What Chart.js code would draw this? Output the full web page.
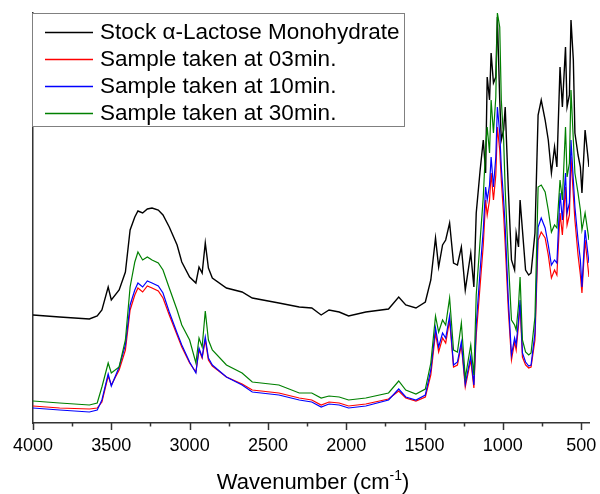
<!DOCTYPE html>
<html>
<head>
<meta charset="utf-8">
<script src="https://cdn.jsdelivr.net/npm/chart.js@4.4.0/dist/chart.umd.min.js"></script>
<style>
  html, body { margin: 0; padding: 0; background: #fff; }
  #wrap { width: 600px; height: 494px; }
</style>
</head>
<body>
<div id="wrap"><canvas id="ftir" width="600" height="494"></canvas></div>
<script>
// FTIR spectra, absorbance in arbitrary units (offset, no y scale shown)
const wavenumber = [4000, 3830, 3640, 3590, 3560, 3520, 3500, 3450, 3410, 3380, 3350, 3330, 3300, 3270, 3240, 3200, 3170, 3130, 3080, 3050,
  3000, 2960, 2940, 2920, 2900, 2880, 2855, 2765, 2665, 2600, 2430, 2300, 2220, 2160, 2110, 2045, 1985, 1875, 1730, 1665,
  1620, 1555, 1495, 1460, 1430, 1410, 1385, 1365, 1340, 1315, 1290, 1265, 1240, 1205, 1185, 1170, 1145, 1125, 1110, 1100,
  1085, 1075, 1060, 1045, 1035, 1020, 1010, 995, 985, 965, 945, 925, 915, 900, 890, 875, 855, 835, 820, 795,
  775, 755, 730, 710, 690, 670, 655, 635, 620, 600, 590, 575, 565, 550, 540, 520, 505, 495, 475, 450];

const stock = [108, 106, 104, 107, 113, 136, 123, 133, 151, 193, 206, 212, 210, 214, 215, 213, 208, 196, 178, 161,
  146, 140, 156, 150, 180, 155, 145, 135, 131, 125, 120, 116, 115, 108, 113, 111, 107, 111, 114, 126,
  118, 115, 121, 143, 185, 156, 178, 183, 200, 160, 158, 176, 133, 170, 136, 210, 253, 283, 250, 346,
  323, 370, 340, 346, 406, 323, 283, 293, 316, 233, 163, 153, 190, 176, 223, 193, 153, 148, 150, 190,
  308, 323, 303, 283, 250, 276, 256, 356, 316, 376, 316, 328, 403, 363, 290, 268, 256, 230, 293, 256];

const min03 = [17, 15, 14, 15, 21, 47, 38, 53, 73, 113, 128, 135, 131, 137, 135, 132, 125, 108, 88, 76,
  60, 51, 73, 65, 83, 63, 57, 46, 39, 33, 30, 25, 23, 18, 21, 20, 17, 19, 24, 32,
  25, 22, 26, 48, 90, 71, 85, 80, 103, 56, 58, 78, 36, 63, 35, 88, 138, 178, 223, 208,
  223, 250, 223, 248, 296, 273, 243, 208, 178, 113, 63, 81, 73, 98, 118, 66, 58, 55, 56, 83,
  183, 191, 185, 168, 145, 153, 148, 210, 188, 236, 198, 208, 266, 228, 203, 168, 148, 130, 183, 146];

const min10 = [15, 13, 11, 13, 23, 49, 37, 56, 78, 118, 133, 140, 136, 142, 140, 137, 130, 111, 90, 78,
  61, 50, 75, 66, 86, 65, 58, 46, 38, 31, 28, 23, 21, 16, 19, 18, 15, 17, 23, 34,
  26, 23, 28, 53, 95, 76, 90, 85, 107, 58, 61, 81, 39, 67, 38, 98, 153, 193, 236, 223,
  238, 266, 236, 266, 316, 290, 256, 223, 196, 123, 68, 85, 78, 103, 123, 70, 61, 57, 58, 90,
  196, 205, 195, 178, 158, 163, 160, 230, 203, 250, 210, 220, 283, 243, 216, 183, 163, 136, 193, 160];

const min30 = [22, 20, 18, 20, 36, 60, 50, 56, 83, 136, 161, 171, 163, 166, 163, 160, 153, 135, 113, 98,
  83, 60, 85, 76, 112, 83, 73, 58, 50, 41, 38, 30, 30, 25, 27, 26, 23, 25, 30, 42,
  33, 29, 34, 60, 107, 91, 103, 98, 125, 73, 71, 100, 45, 78, 48, 128, 183, 226, 276, 296,
  270, 323, 290, 326, 410, 396, 323, 283, 233, 163, 103, 98, 93, 118, 146, 83, 71, 68, 70, 106,
  236, 238, 231, 213, 191, 198, 195, 243, 223, 296, 246, 260, 333, 283, 250, 230, 213, 193, 210, 183];

const seriesNames = ['Stock \u03b1-Lactose Monohydrate', 'Sample taken at 03min.', 'Sample taken at 10min.', 'Sample taken at 30min.'];
const seriesColors = ['#000000', '#ff0000', '#0000ff', '#008000'];
const xTicks = [500, 1000, 1500, 2000, 2500, 3000, 3500, 4000];
const xMinorTicks = [750, 1250, 1750, 2250, 2750, 3250, 3750];

const FONT = '"Liberation Sans", Arial, Helvetica, sans-serif';

function toPoints(ys) {
  return wavenumber.map((w, i) => ({ x: w, y: ys[i] }));
}

// tick marks, legend box and axis title
const decorations = {
  id: 'decorations',
  afterDraw(chart) {
    const ctx = chart.ctx;
    const xs = chart.scales.x;
    const area = chart.chartArea;
    ctx.save();

    // tick marks below the x axis
    ctx.strokeStyle = '#333';
    ctx.lineWidth = 1.5;
    const mark = (v, len) => {
      const px = Math.round(xs.getPixelForValue(v)) + 0.5;
      ctx.beginPath();
      ctx.moveTo(px, area.bottom);
      ctx.lineTo(px, area.bottom + len);
      ctx.stroke();
    };
    xTicks.forEach(v => mark(v, 7));
    xMinorTicks.forEach(v => mark(v, 3.5));

    // legend
    const box = { x: 32.5, y: 13.5, w: 372, h: 113 };
    ctx.fillStyle = '#fff';
    ctx.fillRect(box.x, box.y, box.w, box.h);
    ctx.strokeStyle = '#808080';
    ctx.lineWidth = 1;
    ctx.strokeRect(box.x, box.y, box.w, box.h);
    ctx.font = '22.5px ' + FONT;
    ctx.textBaseline = 'middle';
    ctx.textAlign = 'left';
    seriesNames.forEach((name, i) => {
      const y = 32 + i * 27;
      ctx.strokeStyle = seriesColors[i];
      ctx.lineWidth = 1.3;
      ctx.beginPath();
      ctx.moveTo(45, y + 0.5);
      ctx.lineTo(93, y + 0.5);
      ctx.stroke();
      ctx.fillStyle = '#000';
      ctx.fillText(name, 100, y + 1);
    });

    // axis title with superscript
    const main = 'Wavenumber (cm';
    const sup = '-1';
    const tail = ')';
    ctx.font = '22px ' + FONT;
    const w1 = ctx.measureText(main).width;
    const w3 = ctx.measureText(tail).width;
    ctx.font = '14px ' + FONT;
    const w2 = ctx.measureText(sup).width;
    const total = w1 + w2 + w3;
    let x = 313 - total / 2;
    const base = 489;
    ctx.textBaseline = 'alphabetic';
    ctx.fillStyle = '#000';
    ctx.font = '22px ' + FONT;
    ctx.fillText(main, x, base);
    x += w1;
    ctx.font = '14px ' + FONT;
    ctx.fillText(sup, x, base - 9);
    x += w2;
    ctx.font = '22px ' + FONT;
    ctx.fillText(tail, x, base);
    ctx.restore();
  }
};

const datasets = [stock, min03, min10, min30].map((ys, i) => ({
  label: seriesNames[i],
  data: toPoints(ys),
  borderColor: seriesColors[i],
  borderWidth: i === 0 ? 1.4 : 1.2,
  pointRadius: 0,
  tension: 0,
  fill: false,
  order: [3, 2, 1, 0][i]
}));

new Chart(document.getElementById('ftir'), {
  type: 'line',
  data: { datasets: datasets },
  options: {
    responsive: false,
    animation: false,
    events: [],
    layout: { padding: { top: 13, right: 11, left: 0, bottom: 0 } },
    plugins: {
      legend: { display: false },
      tooltip: { enabled: false }
    },
    scales: {
      x: {
        type: 'linear',
        reverse: true,
        min: 450,
        max: 4000,
        grid: { display: false, drawTicks: false },
        border: { display: true, color: '#333', width: 1.5 },
        ticks: {
          color: '#000',
          font: { family: FONT, size: 18 },
          padding: 12,
          maxRotation: 0,
          callback: v => String(v)
        },
        afterBuildTicks(scale) {
          scale.ticks = xTicks.map(v => ({ value: v }));
        },
        afterFit(scale) {
          scale.height = 71;
        }
      },
      y: {
        min: 0,
        max: 410,
        grid: { display: false, drawTicks: false },
        border: { display: true, color: '#333', width: 1.5 },
        ticks: { display: false },
        afterFit(scale) {
          scale.width = 33;
        }
      }
    }
  },
  plugins: [decorations]
});
</script>
</body>
</html>
